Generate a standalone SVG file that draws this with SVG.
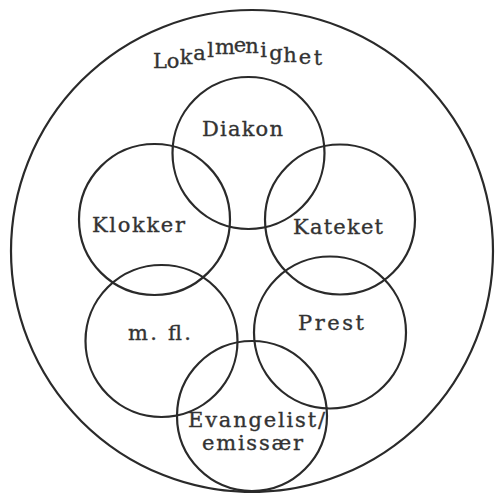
<svg xmlns="http://www.w3.org/2000/svg" width="496" height="493" viewBox="0 0 496 493">
<style>
.c{fill:none;stroke:#2a2a2a;stroke-width:2.2}
.t{font-family:"DejaVu Serif","Liberation Serif",serif;font-size:21px;fill:#333;stroke:#333;stroke-width:0.35}
.a{font-family:"DejaVu Serif","Liberation Serif",serif;font-size:21px;fill:#333;stroke:#333;stroke-width:0.35;text-anchor:middle}
</style>
<rect width="496" height="493" fill="#fff"/>
<g id="lokalmenighet">
<circle class="c" cx="252" cy="251" r="241"/>
<text class="a"><tspan x="160" y="68">L</tspan><tspan x="173" y="67.5">o</tspan><tspan x="186" y="64">k</tspan><tspan x="199.5" y="59.5">a</tspan><tspan x="210.5" y="57">l</tspan><tspan x="225" y="53.5">m</tspan><tspan x="240" y="51.5">e</tspan><tspan x="252" y="52.7">n</tspan><tspan x="263.5" y="56.7">i</tspan><tspan x="276" y="59.5">g</tspan><tspan x="290" y="61.5">h</tspan><tspan x="305" y="64.3">e</tspan><tspan x="318" y="64.5">t</tspan></text>
</g>
<g id="diakon">
<circle class="c" cx="248.5" cy="153" r="76"/>
<text class="t" x="202" y="136" textLength="81" lengthAdjust="spacing">Diakon</text>
</g>
<g id="klokker">
<circle class="c" cx="154.5" cy="219.5" r="75.5"/>
<text class="t" x="92" y="232" textLength="93" lengthAdjust="spacing">Klokker</text>
</g>
<g id="kateket">
<circle class="c" cx="340" cy="219.5" r="75"/>
<text class="t" x="293" y="234" textLength="90" lengthAdjust="spacing">Kateket</text>
</g>
<g id="mfl">
<circle class="c" cx="161.5" cy="341" r="76"/>
<text class="t" x="128" y="340" textLength="63" lengthAdjust="spacing">m. fl.</text>
</g>
<g id="prest">
<circle class="c" cx="330" cy="332.5" r="76"/>
<text class="t" x="298" y="330" textLength="66" lengthAdjust="spacing">Prest</text>
</g>
<g id="evangelist">
<circle class="c" cx="252" cy="416" r="75"/>
<text class="t" x="188" y="427" textLength="137" lengthAdjust="spacing">Evangelist/</text>
<text class="t" x="202" y="450" textLength="101" lengthAdjust="spacing">emissær</text>
</g>
<g id="connectors"/>
</svg>
